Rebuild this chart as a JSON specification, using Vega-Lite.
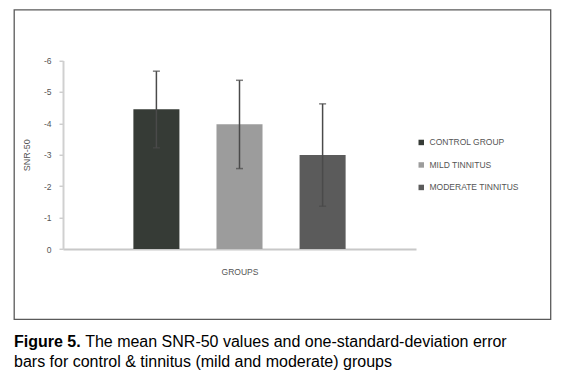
{
  "$schema": "https://vega.github.io/schema/vega-lite/v6.json",
  "width": 536.5,
  "height": 309.5,
  "autosize": {"type": "none"},
  "padding": {"left": 14, "top": 9.7, "right": 20.5, "bottom": 72.8},
  "background": "white",
  "config": {
    "view": {"stroke": "#5a5a5a", "strokeWidth": 1.3},
    "font": "Liberation Sans"
  },
  "title": {
    "text": "Figure 5.",
    "subtitle": [
      "\u200b\u00a0\u00a0\u00a0\u00a0\u00a0\u00a0\u00a0\u00a0\u00a0\u00a0\u00a0\u00a0\u00a0\u00a0\u00a0\u00a0The mean SNR-50 values and one-standard-deviation error",
      "bars for control & tinnitus (mild and moderate) groups"
    ],
    "orient": "bottom",
    "anchor": "start",
    "font": "Liberation Sans",
    "fontSize": 16,
    "fontWeight": "bold",
    "color": "#000000",
    "subtitleFont": "Liberation Sans",
    "subtitleFontSize": 16,
    "subtitleColor": "#000000",
    "subtitleLineHeight": 20,
    "subtitlePadding": -16,
    "offset": 15
  },
  "data": {
    "values": [
      {"group": "CONTROL GROUP", "mean": -4.45, "lower": -3.22, "upper": -5.66},
      {"group": "MILD TINNITUS", "mean": -3.97, "lower": -2.56, "upper": -5.37},
      {"group": "MODERATE TINNITUS", "mean": -2.99, "lower": -1.36, "upper": -4.62}
    ]
  },
  "encoding": {
    "x": {
      "field": "group",
      "type": "nominal",
      "sort": ["CONTROL GROUP", "MILD TINNITUS", "MODERATE TINNITUS"],
      "scale": {"range": [49, 402], "paddingInner": 0.446, "paddingOuter": 0.847},
      "axis": {
        "title": "GROUPS",
        "labels": false,
        "ticks": false,
        "offset": -70.3,
        "domainColor": "#c8c8c8",
        "domainWidth": 2,
        "titleFontSize": 8.5,
        "titleColor": "#555555",
        "titleFontWeight": "normal",
        "titlePadding": 19
      }
    }
  },
  "layer": [
    {
      "mark": {"type": "bar"},
      "encoding": {
        "y": {
          "field": "mean",
          "type": "quantitative",
          "scale": {"domain": [0, -6], "range": [239.3, 50.8], "nice": false},
          "axis": {
            "title": "SNR-50",
            "values": [0, -1, -2, -3, -4, -5, -6],
            "offset": -49,
            "grid": false,
            "domainColor": "#d0d0d0",
            "domainWidth": 2,
            "tickColor": "#b8b8b8",
            "tickSize": 4,
            "labelFontSize": 8.5,
            "labelColor": "#555555",
            "labelPadding": 8,
            "labelExpr": "datum.value == 0 ? '0' : '-' + abs(datum.value)",
            "titleFontSize": 9,
            "titleColor": "#555555",
            "titleFontWeight": "normal",
            "titlePadding": 12
          }
        },
        "color": {
          "field": "group",
          "type": "nominal",
          "scale": {
            "domain": ["CONTROL GROUP", "MILD TINNITUS", "MODERATE TINNITUS"],
            "range": ["#363b36", "#9c9c9c", "#5b5b5b"]
          },
          "legend": {
            "title": null,
            "orient": "none",
            "legendX": 403,
            "legendY": 128.5,
            "symbolType": "square",
            "symbolSize": 30,
            "symbolStrokeWidth": 0,
            "labelFontSize": 8.5,
            "labelColor": "#555555",
            "labelOffset": 4,
            "rowPadding": 13.5
          }
        }
      }
    },
    {
      "mark": {"type": "rule", "color": "#4a4a4a", "strokeWidth": 1.5},
      "encoding": {
        "y": {"field": "lower", "type": "quantitative"},
        "y2": {"field": "upper"}
      }
    },
    {
      "mark": {"type": "tick", "color": "#4a4a4a", "size": 7, "thickness": 1.5},
      "encoding": {"y": {"field": "upper", "type": "quantitative"}}
    },
    {
      "mark": {"type": "tick", "color": "#4a4a4a", "size": 7, "thickness": 1.5},
      "encoding": {"y": {"field": "lower", "type": "quantitative"}}
    }
  ]
}
